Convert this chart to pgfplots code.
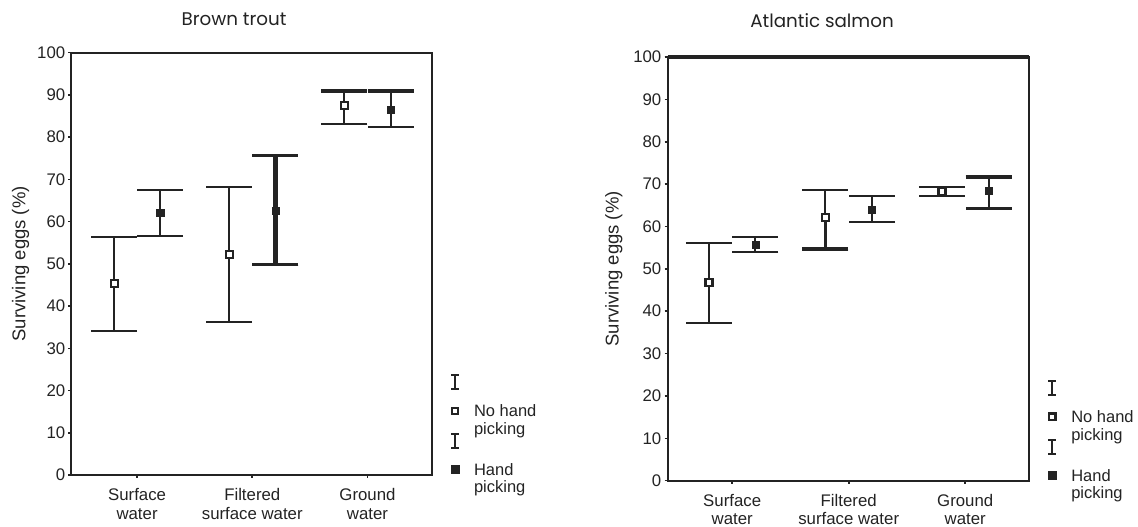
\documentclass[border=0pt]{standalone}
\usepackage{fontspec}
\setmainfont{Liberation Sans}
\newfontfamily\titlefont{Poppins}
\usepackage{pgfplots}
\usepackage{pgfplotstable}
\pgfplotsset{compat=1.18}
\definecolor{ink}{RGB}{35,35,35}

\pgfplotstableread{
x y hi lo
1 45.3 56.4 34.0
2 52.1 68.1 36.2
3 87.4 91.0 83.2
}\troutNo
\pgfplotstableread{
x y hi lo
1 62.2 67.6 56.7
2 62.6 75.7 49.8
3 86.5 91.0 82.3
}\troutHand
\pgfplotstableread{
x y hi lo
1 46.8 56.2 37.3
2 62.1 68.7 54.7
3 68.3 69.4 67.2
}\salmonNo
\pgfplotstableread{
x y hi lo
1 55.7 57.5 54.0
2 64.0 67.2 61.1
3 68.5 71.7 64.3
}\salmonHand

\pgfplotsset{
  panel/.style={
    scale only axis,
    ymin=0, ymax=100, ytick={0,10,...,100},
    xtick={1,2,3},
    xticklabels={{Surface\\water},{Filtered\\surface water},{Ground\\water}},
    xtick pos=bottom, ytick pos=left, tick align=outside, major tick length=3pt,
    axis line style={ink, line width=2pt},
    tick style={ink, line width=1.6pt},
    tick label style={font=\fontsize{16.8}{18.7}\selectfont, text=ink},
    /pgf/number format/assume math mode=true,
    yticklabel style={inner sep=0pt, xshift=-3pt},
    xticklabel style={align=center, inner sep=0pt, yshift=-10pt},
    ylabel={Surviving eggs (\%)},
    clip=false,
    legend style={draw=none, fill=none, inner sep=0pt, outer sep=0pt,
      at={(axis description cs:1,0)}, anchor=north west,
      row sep=0pt, column sep=13pt,
      font=\fontsize{16.5}{17.5}\selectfont, text=ink,
      nodes={inner sep=0pt, anchor=base west, align=left}},
  },
  tN/.style={table/x expr=\thisrow{x}-0.2, table/y=y,
    table/y error plus expr=\thisrow{hi}-\thisrow{y},
    table/y error minus expr=\thisrow{y}-\thisrow{lo}},
  tH/.style={table/x expr=\thisrow{x}+0.2, table/y=y,
    table/y error plus expr=\thisrow{hi}-\thisrow{y},
    table/y error minus expr=\thisrow{y}-\thisrow{lo}},
  eb/.style={
    error bars/y dir=both, error bars/y explicit,
    error bars/error mark=-,
    error bars/error bar style={ink, line width=2pt},
    error bars/error mark options={rotate=90, ink, line width=2pt, mark size=23pt}},
  ibarA/.style={legend image code/.code={
    \path[draw=none, fill=none] (0pt,-23pt) rectangle (12pt,8pt);
    \draw[overlay, ink, line width=1.8pt] (6pt,-7pt)--(6pt,7pt) (2pt,-7pt)--(10pt,-7pt) (2pt,7pt)--(10pt,7pt);}},
  ibarB/.style={legend image code/.code={
    \path[draw=none, fill=none] (0pt,-22.5pt) rectangle (12pt,5pt);
    \draw[overlay, ink, line width=1.8pt] (6pt,-7pt)--(6pt,7pt) (2pt,-7pt)--(10pt,-7pt) (2pt,7pt)--(10pt,7pt);}},
  sqOpen/.style={legend image code/.code={
    \path[draw=none, fill=none] (0pt,0pt) rectangle (12pt,0pt);
    \draw[overlay, ink, line width=#1, fill=white] (2.7pt,20.2pt) rectangle (9.3pt,26.8pt);}},
  sqFull/.style={legend image code/.code={
    \path[draw=none, fill=none] (0pt,0pt) rectangle (12pt,0pt);
    \fill[overlay, ink] (2.2pt,19.7pt) rectangle (9.8pt,27.3pt);}},
}

\begin{document}
\begin{tikzpicture}[x=1pt,y=1pt]
\useasboundingbox (0,0) rectangle (1138,527);

% ---------------- Brown trout
\begin{axis}[panel,
  at={(71.4pt,52pt)}, anchor=south west,
  width=360.6pt, height=422.3pt,
  xmin=0.43, xmax=3.56,
  title={Brown trout},
  title style={at={(axis description cs:0.451,1)}, anchor=base, yshift=20.7pt,
    font=\titlefont\fontsize{18.3}{20}\selectfont, text=ink},
  every axis y label/.style={at={(axis description cs:-0.141,0.5)}, rotate=90, anchor=center,
    font=\fontsize{18.5}{20}\selectfont, text=ink},
  legend style={xshift=17pt, yshift=101pt},
]
% heavier strokes as printed (drawn first)
\addplot[ink, only marks, mark=none, forget plot, restrict expr to domain={\coordindex}{1:1},
  error bars/y dir=both, error bars/y explicit, error bars/error mark=-,
  error bars/error bar style={ink, line width=4.8pt},
  error bars/error mark options={rotate=90, ink, line width=3.6pt, mark size=23pt}, tH] table {\troutHand};
\addplot[ink, only marks, mark=none, forget plot, restrict expr to domain={\coordindex}{2:2},
  error bars/y dir=plus, error bars/y explicit, error bars/error mark=-,
  error bars/error bar style={ink, line width=2pt},
  error bars/error mark options={rotate=90, ink, line width=4pt, mark size=23pt}, tN] table {\troutNo};
\addplot[ink, only marks, mark=none, forget plot, restrict expr to domain={\coordindex}{2:2},
  error bars/y dir=plus, error bars/y explicit, error bars/error mark=-,
  error bars/error bar style={ink, line width=2pt},
  error bars/error mark options={rotate=90, ink, line width=4pt, mark size=23pt}, tH] table {\troutHand};
\addplot[ink, only marks, mark=square*, mark size=3.5pt, mark options={fill=white, line width=2pt}, forget plot, eb, tN] table {\troutNo};
\addplot[ink, only marks, mark=square*, mark size=3.6pt, mark options={fill=ink}, forget plot, eb, tH] table {\troutHand};
\addlegendimage{ibarA}\addlegendentry{\mbox{}}
\addlegendimage{sqOpen=1.8pt}\addlegendentry{No hand\\picking}
\addlegendimage{ibarB}\addlegendentry{\mbox{}}
\addlegendimage{sqFull}\addlegendentry{Hand\\picking}
\end{axis}

% ---------------- Atlantic salmon
\begin{axis}[panel,
  at={(667.5pt,46.3pt)}, anchor=south west,
  width=361.8pt, height=423.7pt,
  xmin=0.445, xmax=3.55,
  extra y ticks={100}, extra y tick labels={},
  extra y tick style={grid=major, major grid style={ink, line width=3.6pt}, major tick length=3pt},
  title={Atlantic salmon},
  title style={at={(axis description cs:0.427,1)}, anchor=base, yshift=23.7pt,
    font=\titlefont\fontsize{18.3}{20}\selectfont, text=ink},
  every axis y label/.style={at={(axis description cs:-0.148,0.5)}, rotate=90, anchor=center,
    font=\fontsize{18.5}{20}\selectfont, text=ink},
  legend style={xshift=17pt, yshift=101pt},
]
\addplot[ink, only marks, mark=none, forget plot, restrict expr to domain={\coordindex}{1:1},
  error bars/y dir=minus, error bars/y explicit, error bars/error mark=-,
  error bars/error bar style={ink, line width=2.6pt},
  error bars/error mark options={rotate=90, ink, line width=4pt, mark size=23pt}, tN] table {\salmonNo};
\addplot[ink, only marks, mark=none, forget plot, restrict expr to domain={\coordindex}{2:2},
  error bars/y dir=plus, error bars/y explicit, error bars/error mark=-,
  error bars/error bar style={ink, line width=2pt},
  error bars/error mark options={rotate=90, ink, line width=4pt, mark size=23pt}, tH] table {\salmonHand};
\addplot[ink, only marks, mark=none, forget plot, restrict expr to domain={\coordindex}{2:2},
  error bars/y dir=minus, error bars/y explicit, error bars/error mark=-,
  error bars/error bar style={ink, line width=2pt},
  error bars/error mark options={rotate=90, ink, line width=3pt, mark size=23pt}, tH] table {\salmonHand};
\addplot[ink, only marks, mark=square*, mark size=3.5pt, mark options={fill=white, line width=2.6pt}, forget plot, eb, tN] table {\salmonNo};
\addplot[ink, only marks, mark=square*, mark size=3.6pt, mark options={fill=ink}, forget plot, eb, tH] table {\salmonHand};
\addlegendimage{ibarA}\addlegendentry{\mbox{}}
\addlegendimage{sqOpen=2.5pt}\addlegendentry{No hand\\picking}
\addlegendimage{ibarB}\addlegendentry{\mbox{}}
\addlegendimage{sqFull}\addlegendentry{Hand\\picking}
\end{axis}
\end{tikzpicture}
\end{document}
